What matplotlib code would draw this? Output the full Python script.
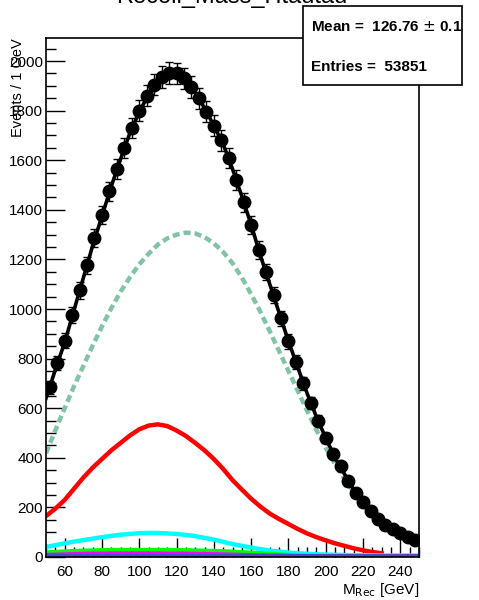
import numpy as np
import matplotlib
matplotlib.use("Agg")
import matplotlib.pyplot as plt
from matplotlib.patches import Rectangle
from matplotlib.transforms import Bbox, TransformedBbox
from matplotlib.ticker import MultipleLocator

plt.rcParams['font.family'] = ['Liberation Sans', 'DejaVu Sans']

# data histogram, 4 GeV bins
binCenters = list(range(52, 250, 4))
counts = [685, 782, 872, 975, 1075, 1177, 1285, 1380, 1475, 1565,
          1650, 1730, 1800, 1860, 1905, 1935, 1952, 1950, 1930, 1895,
          1850, 1795, 1740, 1680, 1609, 1520, 1430, 1340, 1238, 1149,
          1055, 962, 870, 785, 700, 620, 550, 480, 415, 365,
          305, 260, 220, 185, 155, 130, 112, 96, 82, 70]

# curves sampled every 5 GeV
curveX = list(range(50, 251, 5))
fitY = [640, 755, 865, 995, 1125, 1255, 1375, 1495, 1605, 1710,
        1795, 1865, 1915, 1945, 1950, 1925, 1875, 1810, 1740, 1665,
        1565, 1455, 1340, 1215, 1100, 985, 870, 765, 660, 565,
        480, 400, 335, 272, 220, 178, 143, 116, 96, 80, 67]
sigDashed = [419, 510, 600, 688, 770, 852, 930, 1003, 1070, 1128,
             1180, 1223, 1260, 1285, 1300, 1308, 1305, 1290, 1265, 1230,
             1185, 1127, 1060, 988, 910, 830, 750, 670, 590, 512,
             440, 375, 315, 262, 215, 180, 150, 123, 100, 82, 65]
bkgRed = [165, 195, 230, 275, 320, 360, 395, 430, 460, 490,
          515, 530, 535, 528, 510, 488, 460, 430, 395, 355,
          310, 272, 235, 203, 175, 153, 133, 113, 95, 80,
          67, 55, 45, 35, 27, 20, 15]
bkgCyan = [40, 48, 55, 62, 68, 74, 80, 85, 90, 93,
           96, 97, 97, 95, 93, 89, 84, 77, 70, 61,
           52, 45, 38, 32, 26, 22, 18, 15, 13, 11,
           10, 9, 8, 7, 7, 7, 6, 6, 6, 6, 6]
bkgGreen = [18, 20, 22, 24, 25, 26, 27, 28, 28, 28,
            28, 28, 28, 28, 27, 27, 26, 25, 24, 23,
            21, 19, 17, 15, 12, 10, 8, 6, 5, 4,
            3, 2, 2, 1, 1, 1, 1, 0, 0, 0, 0]
bkgMagenta = [8, 9, 10, 11, 12, 13, 13, 14, 14, 14,
              14, 14, 14, 13, 13, 13, 12, 12, 11, 10,
              9, 8, 7, 6, 5, 5, 4, 3, 3, 2,
              2, 2, 1, 1, 1, 1, 1, 1, 1, 1, 1]
bkgBlue = [4] * 26 + [3] * 15

title = "Recoil_Mass_Htautau"
meanText = "Mean =  126.76 $\\pm$ 0.18"
entriesText = "Entries =  53851"

fig = plt.figure(figsize=(4.79, 6.0), dpi=100)
ax = fig.add_axes([46/479, 43/600, 373/479, 519/600])

ax.plot(curveX, sigDashed, color='#80c4a4', lw=3.2, ls=(0, (1.6, 0.9)), zorder=2)
ax.plot(curveX[:len(bkgRed)], bkgRed, color='#ff0000', lw=3.2, zorder=2)
ax.plot(curveX, bkgCyan, color='#00ffff', lw=3.2, zorder=2)
ax.plot(curveX, bkgGreen, color='#00ff00', lw=3.2, zorder=2)
ax.plot(curveX, bkgMagenta, color='#ff00ff', lw=3.2, zorder=2)
ax.plot(curveX, bkgBlue, color='#4a4ad0', lw=3.2, zorder=2)

ax.plot(curveX, fitY, color='black', lw=2.6, zorder=3)
errs = np.sqrt(counts)
ax.errorbar(binCenters, counts, yerr=errs, fmt='o', color='black', ms=9,
            elinewidth=1, capsize=3.2, capthick=1, zorder=4)

ax.set_xlim(50, 250)
ax.set_ylim(0, 2093)
ax.xaxis.set_major_locator(MultipleLocator(20))
ax.xaxis.set_minor_locator(MultipleLocator(5))
ax.yaxis.set_major_locator(MultipleLocator(200))
ax.yaxis.set_minor_locator(MultipleLocator(50))
ax.tick_params(which='both', direction='in', top=False, right=False, labelsize=11)
ax.tick_params(which='major', length=14, width=1)
ax.tick_params(which='minor', length=7, width=1)
ax.tick_params(axis='x', pad=6)
ax.tick_params(axis='y', pad=2)
for s in ax.spines.values():
    s.set_linewidth(1.2)

fig.text(0.038, 0.937, "Events / 1 GeV", rotation=90, ha='center', va='top', fontsize=10.5)
fig.text(419/479, 10/600, r"M$_{\mathrm{Rec}}$ [GeV]", ha='right', va='center', fontsize=11)
fig.text(232/479, 597/600, title, ha='center', va='baseline', fontsize=17)

# stats box
bx0, by0, bx1, by1 = 303/479, (600-85)/600, 462/479, (600-6)/600
fig.patches.append(Rectangle((bx0, by0), bx1-bx0, by1-by0, transform=fig.transFigure,
                             facecolor='white', edgecolor='black', lw=1.2, zorder=10))
clip = TransformedBbox(Bbox([[bx0, by0], [bx1, by1]]), fig.transFigure)
for txt, yy in [(meanText, 573), (entriesText, 533)]:
    t = fig.text(311/479, yy/600, txt, ha='left', va='center', fontsize=11,
                 fontweight='bold', zorder=11)
    t.set_clip_box(clip)
    t.set_clip_on(True)

fig.savefig("out.png", dpi=100)
